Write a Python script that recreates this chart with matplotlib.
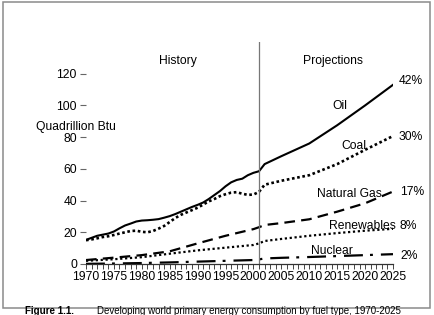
import matplotlib
matplotlib.use("Agg")
import matplotlib.pyplot as plt
from matplotlib.patches import Rectangle

plt.rcParams['font.family'] = ['Liberation Sans', 'DejaVu Sans']

# ---- data ----
hist_years = list(range(1970, 2002))
proj_years = [2002, 2005, 2010, 2015, 2020, 2025]

oil_hist = [15.2, 16.5, 17.8, 18.5, 19.2, 20.5, 22.5, 24.3, 25.5, 26.8,
            27.4, 27.6, 27.9, 28.3, 29.2, 30.2, 31.5, 33.0, 34.5, 36.0,
            37.3, 38.8, 41.0, 43.5, 46.0, 49.0, 51.5, 53.0, 53.8, 56.0,
            57.5, 58.5]
oil_proj = [63.0, 68.0, 76.0, 87.5, 100.0, 113.0]

coal_hist = [15.0, 15.5, 16.2, 17.0, 17.5, 18.3, 19.2, 20.0, 20.8, 21.0,
             20.3, 20.0, 20.8, 22.3, 24.0, 26.5, 29.0, 31.0, 32.5, 34.0,
             35.5, 37.5, 39.5, 41.0, 42.8, 44.0, 45.0, 45.3, 44.3, 43.6,
             43.8, 45.5]
coal_proj = [50.0, 52.5, 56.0, 63.0, 72.0, 80.7]

other_years = [1970, 1975, 1980, 1985, 1990, 1995, 2000, 2001,
               2002, 2005, 2010, 2015, 2020, 2025]
gas = [2.5, 4.0, 5.6, 8.0, 13.0, 17.8, 22.0, 23.2, 24.6, 25.8, 28.2, 33.0, 38.3, 45.7]
renewables = [2.0, 3.0, 4.3, 6.5, 8.6, 10.3, 12.0, 13.0, 14.5, 15.8, 17.8, 19.5, 21.0, 22.2]
nuclear = [0.1, 0.3, 0.6, 1.0, 1.5, 2.0, 2.5, 2.9, 3.5, 3.9, 4.4, 5.0, 5.6, 6.2]

series_labels = ["Oil", "Coal", "Natural Gas", "Renewables", "Nuclear"]
shares = ["42%", "30%", "17%", "8%", "2%"]
y_ticks = [0, 20, 40, 60, 80, 100, 120]
x_ticks = list(range(1970, 2026, 5))
divider_year = 2001

# ---- figure ----
W, H = 435, 315
fig = plt.figure(figsize=(W / 100, H / 100), dpi=100)


def px(x, y):
    return (x / W, 1 - y / H)


ax = fig.add_axes([86 / W, 1 - 264 / H, 307 / W, 222 / H])
ax.set_xlim(1970, 2025)
ax.set_ylim(0, 140)

ax.plot(hist_years + proj_years, oil_hist + oil_proj, color='black', lw=1.5,
        solid_joinstyle='round')
ax.plot(hist_years + proj_years, coal_hist + coal_proj, color='black', lw=1.9,
        linestyle=(0, (1.0, 1.0)))
ax.plot(other_years, gas, color='black', lw=1.6, linestyle=(0, (4.8, 2.8)))
ax.plot(other_years, renewables, color='black', lw=1.6, linestyle=(0, (1.0, 1.2)))
ax.plot(other_years, nuclear, color='black', lw=1.6,
        linestyle=(0, (8.5, 3.2, 1.3, 3.6)))

ax.plot([divider_year, divider_year], [0, 140], color='#777777', lw=0.9)

for s in ['left', 'top', 'right']:
    ax.spines[s].set_visible(False)
ax.spines['bottom'].set_color('#333333')
ax.spines['bottom'].set_linewidth(0.9)

ax.set_yticks(y_ticks)
ax.set_yticklabels([str(v) for v in y_ticks])
ax.set_xticks(x_ticks)
ax.set_xticklabels([str(v) for v in x_ticks])
ax.set_xticks(list(range(1970, 2026)), minor=True)
ax.tick_params(axis='y', direction='out', length=4, width=0.8, color='#666666',
               pad=2.5, labelsize=8.7)
ax.tick_params(axis='x', which='both', direction='out', length=3.5, width=0.7,
               color='#444444', pad=1.5, labelsize=8.7)

fs = 8.7
fig.text(*px(178, 61), "History", ha='center', va='center', fontsize=fs)
fig.text(*px(333, 61), "Projections", ha='center', va='center', fontsize=fs)
fig.text(*px(76, 127), "Quadrillion Btu", ha='center', va='center', fontsize=fs)

label_pos = [(340, 106), (354, 146), (349, 194), (362, 226), (332, 251)]
share_pos = [(399, 81), (399, 137), (400, 192), (400, 226), (400, 256)]
for lab, (x, y) in zip(series_labels, label_pos):
    fig.text(*px(x, y), lab, ha='center', va='center', fontsize=fs)
for sh, (x, y) in zip(shares, share_pos):
    fig.text(*px(x, y), sh, ha='left', va='center', fontsize=fs)

# frame
fig.patches.append(Rectangle(px(3, 307.5), 427 / W, 305.5 / H, transform=fig.transFigure,
                             fill=False, edgecolor='#8a8a8a', lw=1.1))

# caption
fig.text(*px(25, 311.3), "Figure 1.1.", ha='left', va='center', fontsize=7.0,
         fontweight='bold')
fig.text(*px(97, 311.3), "Developing world primary energy consumption by fuel type, 1970-2025",
         ha='left', va='center', fontsize=7.0)

fig.savefig("out.png", dpi=100)
